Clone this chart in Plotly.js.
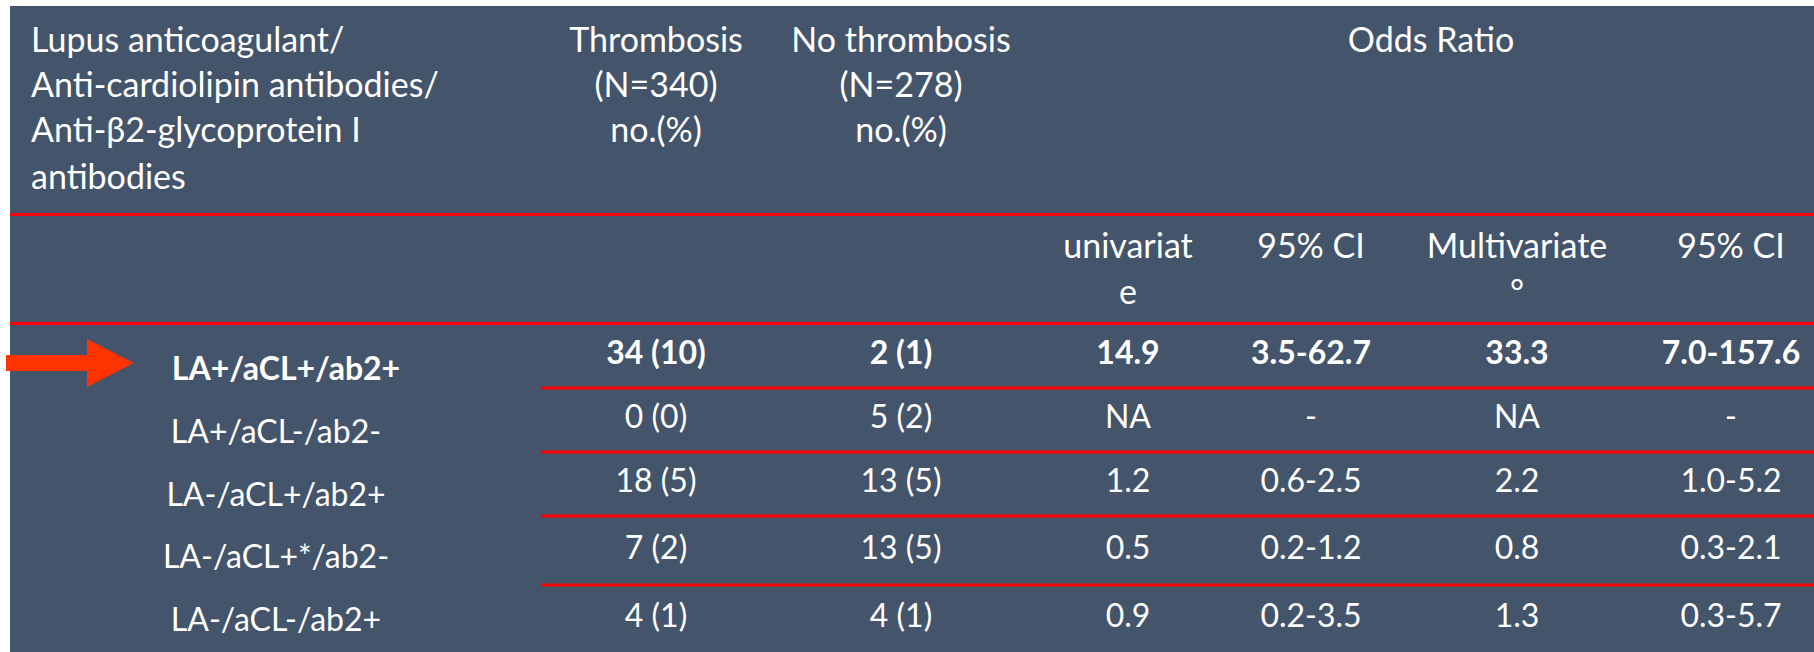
<!DOCTYPE html>
<html>
<head>
<meta charset="utf-8">
<script src="https://cdn.plot.ly/plotly-3.0.1.min.js"></script>
<style>html,body{margin:0;padding:0;background:#fff;}#chart{width:1814px;height:652px;}</style>
</head>
<body>
<div id="chart"></div>
<script>
// ---------- DATA ----------
const groups = ['LA+/aCL+/ab2+', 'LA+/aCL-/ab2-', 'LA-/aCL+/ab2+', 'LA-/aCL+*/ab2-', 'LA-/aCL-/ab2+'];
const thrombosis = ['34 (10)', '0 (0)', '18 (5)', '7 (2)', '4 (1)'];
const noThrombosis = ['2 (1)', '5 (2)', '13 (5)', '13 (5)', '4 (1)'];
const orUnivariate = ['14.9', 'NA', '1.2', '0.5', '0.9'];
const ciUnivariate = ['3.5-62.7', '-', '0.6-2.5', '0.2-1.2', '0.2-3.5'];
const orMultivariate = ['33.3', 'NA', '2.2', '0.8', '1.3'];
const ciMultivariate = ['7.0-157.6', '-', '1.0-5.2', '0.3-2.1', '0.3-5.7'];
const highlightedRow = 0;

const rowHeader = ['Lupus anticoagulant/', 'Anti-cardiolipin antibodies/', 'Anti-\u03B22-glycoprotein I', 'antibodies'];
const countHeaders = [['Thrombosis', '(N=340)', 'no.(%)'], ['No thrombosis', '(N=278)', 'no.(%)']];
const groupHeader = 'Odds Ratio';
const orHeaders = [['univariat', 'e'], ['95% CI'], ['Multivariate', '\u00B0'], ['95% CI']];

// ---------- LAYOUT CONSTANTS (pixel-like units) ----------
const W = 1814, H = 652;
const panel = {x0: 10, y0: 6, x1: 1814, y1: 652};
const BG = '#44546A', RED = '#FF0000', ARROW = '#FF3300', FG = '#FFFFFF';
const FONT = 'Lato, "Open Sans", sans-serif';
const FS_HEAD = 34;
const FS_BODY = 32;
const labelX = 276;
const highlightLabelDX = 10;
const headerLeftX = 31;
const countX = [656, 901];
const orX = [1128, 1311, 1517, 1731];
const groupHeaderX = 1431;
const headerLineY = [43, 88, 133, 180];
const subHeaderLineY = [249, 295];
const headerRuleY = 214.5;
const rowLines = [323.5, 388, 452, 516, 585, 652];
const labelY = [372, 435, 498, 560, 623];
const rowLineStartX = 541;

const rowCenters = rowLines.slice(0, -1).map((v, i) => (v + rowLines[i + 1]) / 2);
const fmt = (arr) => arr.map((t, i) => i === highlightedRow ? '<b>' + t + '</b>' : t);

const traces = [];
function textTrace(xs, ys, texts, size, pos) {
  traces.push({
    type: 'scatter', mode: 'text', x: xs, y: ys, text: texts,
    textposition: pos || 'middle center',
    textfont: {family: FONT, size: size, color: FG},
    hoverinfo: 'skip', showlegend: false, cliponaxis: false
  });
}

// top-left header (left aligned)
textTrace(rowHeader.map(() => headerLeftX), rowHeader.map((_, i) => headerLineY[i]), rowHeader, FS_HEAD, 'middle right');
// count headers
countHeaders.forEach((lines, c) => textTrace(lines.map(() => countX[c]), lines.map((_, i) => headerLineY[i]), lines, FS_HEAD));
// group header
textTrace([groupHeaderX], [headerLineY[0]], [groupHeader], FS_HEAD);
// OR sub headers
orHeaders.forEach((lines, c) => textTrace(lines.map(() => orX[c]), lines.map((_, i) => subHeaderLineY[i]), lines, FS_HEAD));

// row labels
textTrace(groups.map((_, i) => labelX + (i === highlightedRow ? highlightLabelDX : 0)), labelY, fmt(groups), FS_BODY);
// data columns
[thrombosis, noThrombosis].forEach((col, c) => textTrace(col.map(() => countX[c]), rowCenters, fmt(col), FS_BODY));
[orUnivariate, ciUnivariate, orMultivariate, ciMultivariate].forEach((col, c) => textTrace(col.map(() => orX[c]), rowCenters, fmt(col), FS_BODY));

// ---------- SHAPES ----------
const shapes = [];
shapes.push({type: 'rect', xref: 'x', yref: 'y', x0: panel.x0, x1: panel.x1, y0: panel.y0, y1: panel.y1,
  fillcolor: BG, line: {width: 0}, layer: 'below'});
// full-width header rules
[headerRuleY, rowLines[0]].forEach(y => shapes.push({type: 'line', xref: 'x', yref: 'y', x0: panel.x0, x1: panel.x1, y0: y, y1: y,
  line: {color: RED, width: 3}, layer: 'below'}));
// row separators
rowLines.slice(1, -1).forEach(y => shapes.push({type: 'line', xref: 'x', yref: 'y', x0: rowLineStartX, x1: panel.x1, y0: y, y1: y,
  line: {color: RED, width: 3}, layer: 'below'}));
// arrow pointing at highlighted row
const ay = 363;
shapes.push({type: 'path', xref: 'x', yref: 'y',
  path: `M 6 ${ay - 8} L 87 ${ay - 8} L 87 ${ay - 24} L 134 ${ay} L 87 ${ay + 24} L 87 ${ay + 8} L 6 ${ay + 8} Z`,
  fillcolor: ARROW, line: {width: 0}, layer: 'below'});

const layout = {
  width: W, height: H,
  margin: {l: 0, r: 0, t: 0, b: 0, pad: 0},
  paper_bgcolor: '#FFFFFF', plot_bgcolor: '#FFFFFF',
  xaxis: {range: [0, W], visible: false, fixedrange: true},
  yaxis: {range: [H, 0], visible: false, fixedrange: true},
  shapes: shapes,
  showlegend: false,
  hovermode: false,
  font: {family: FONT, color: FG}
};

Plotly.newPlot('chart', traces, layout, {staticPlot: true, displayModeBar: false});
</script>
</body>
</html>
